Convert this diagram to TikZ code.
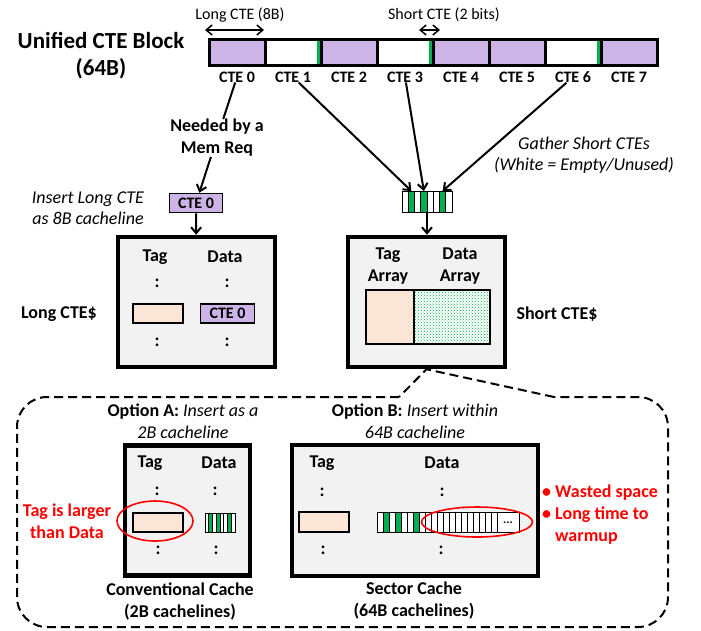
\documentclass[tikz,border=0pt]{standalone}
\usepackage{fontspec}
\setmainfont{Carlito}
\usetikzlibrary{positioning, arrows.meta, patterns, shapes.geometric}

\definecolor{ctepurple}{HTML}{CDB4E6}
\definecolor{tagpeach}{HTML}{FBE5D6}
\definecolor{bitgreen}{HTML}{00B050}
\definecolor{cachegray}{HTML}{F2F2F2}
\definecolor{warnred}{HTML}{FF0000}

\tikzset{
  >={Straight Barb[length=6pt,width=10pt]}, % open arrow heads
  lbl/.style={font=\fontsize{18}{22}\selectfont\bfseries, align=center, inner sep=0pt}, % bold labels
  note/.style={font=\fontsize{18}{21}\selectfont\itshape, align=center, inner sep=0pt}, % italic remarks
  ctelab/.style={font=\fontsize{16}{18}\selectfont\bfseries, inner sep=0pt}, % names of the entries
  toplab/.style={font=\fontsize{16}{18}\selectfont, inner sep=0pt},
  warn/.style={lbl, text=warnred}, % red remarks
  cell/.style={draw, line width=3pt, outer sep=0pt, minimum width=56pt, minimum height=26pt, inner sep=0pt},
  bit/.style={draw, line width=0.8pt, outer sep=0pt, minimum height=20pt, inner sep=0pt},
  entry/.style={draw, line width=1.5pt, minimum height=19pt, inner sep=0pt},
  cachebox/.style={draw, line width=4.5pt, fill=cachegray, inner sep=0pt},
  ring/.style={draw=warnred, line width=1.6pt, ellipse, inner sep=0pt},
  region/.style={dash pattern=on 9pt off 5pt, line width=2pt},
  link/.style={line width=2pt},
}

\begin{document}
\begin{tikzpicture}[x=1pt, y=-1pt]
  \useasboundingbox (0,0) rectangle (701,630);

  % the unified block
  \node[lbl, font=\fontsize{23}{27}\selectfont\bfseries] (title) at (101,56) {Unified CTE Block\\(64B)};
  \foreach \i/\c in {0/ctepurple,1/white,2/ctepurple,3/white,4/ctepurple,5/ctepurple,6/white,7/ctepurple}
    \node[cell, fill=\c] (c\i) at (237+56*\i,52) {};
  \foreach \i in {1,3,6}
    \fill[bitgreen] ([xshift=-4.5pt,yshift=-1.5pt]c\i.north east) rectangle ([xshift=-1.5pt,yshift=1.5pt]c\i.south east);
  \foreach \i in {0,...,7}
    \node[ctelab] (l\i) at ([yshift=-12pt]c\i.south) {CTE \i};

  \coordinate (lw) at ([xshift=-4pt,yshift=9pt]c0.north west);
  \coordinate (le) at ([xshift=-1pt,yshift=9pt]c0.north east);
  \coordinate (sw) at ([xshift=-14pt,yshift=9pt]c3.north east);
  \coordinate (se) at ([xshift=7pt,yshift=9pt]c3.north east);
  \draw[<->, line width=1.5pt] (lw) -- (le);
  \draw[<->, line width=1.5pt] (sw) -- (se);
  \node[toplab] (longlab) at (240,15) {Long CTE (8B)};
  \node[toplab] (shortlab) at (444,15) {Short CTE (2 bits)};

  % long CTE path
  \node[lbl] (need) at (217,138) {Needed by a\\Mem Req};
  \draw[link] (l0) -- (need);
  \node[entry, ctelab, fill=ctepurple, minimum width=53pt] (ins) at (196,203) {CTE 0};
  \draw[->, link] (need) -- (ins);
  \node[note] (insnote) at (88,208) {Insert Long CTE\\as 8B cacheline};

  \node[cachebox, minimum width=157pt, minimum height=130pt] (lcache) at (196.5,302) {};
  \draw[->, link] (ins) -- (lcache);
  \node[lbl] (ltag) at (155,257) {Tag};
  \node[lbl] (ldata) at (225,257) {Data};
  \node[lbl] (ldot1) at (157,283) {:};
  \node[lbl] (ldot2) at (227,283) {:};
  \node[entry, fill=tagpeach, minimum width=50pt] (lentry) at (158,313.5) {};
  \node[entry, ctelab, fill=ctepurple, minimum width=54pt] (lcte) at (227.5,313.5) {CTE 0};
  \node[lbl] (ldot3) at (157,342) {:};
  \node[lbl] (ldot4) at (227,342) {:};
  \node[lbl] (lname) at (59,314) {Long CTE\$};

  % short CTE path
  \foreach \i/\c in {0/white,1/bitgreen,2/white,3/bitgreen,4/white,5/white,6/bitgreen,7/white}
    \node[bit, fill=\c, minimum width=6.25pt, minimum height=21pt] (s\i) at (405.1+6.25*\i,201.5) {};
  \draw[->, link] (l1) -- (s1.north);
  \draw[->, link] (l3) -- (s3.north);
  \draw[->, link] (l6) -- (s6.north);
  \node[note] (gather) at (584,155) {Gather Short CTEs\\(White = Empty/Unused)};

  \node[cachebox, minimum width=157pt, minimum height=130pt] (scache) at (426.5,302) {};
  \draw[->, link] (s3.south east) -- (s3.south east |- scache.north);
  \node[lbl] (stag) at (388,266) {Tag\\Array};
  \node[lbl] (sdata) at (460,266) {Data\\Array};
  \node[entry, fill=tagpeach, minimum width=48pt, minimum height=54pt] (starr) at (390,317) {};
  \node[entry, preaction={fill=white}, pattern=crosshatch dots, pattern color=bitgreen, minimum width=76pt, minimum height=54pt] (sdarr) at (452,317) {};
  \node[lbl] (sname) at (557,314) {Short CTE\$};

  % options for inserting short CTEs
  \draw[region, rounded corners=30pt] (399,397) -- (17,397) -- (17,627) -- (668,627) -- (668,397) -- (554,397);
  \draw[region] (554,397) -- (scache.south) -- (399,397);
  \node[lbl] (opta) at (183,421) {Option A: {\normalfont\itshape Insert as a}\\{\normalfont\itshape 2B cacheline}};
  \node[lbl] (optb) at (415,421) {Option B: {\normalfont\itshape Insert within}\\{\normalfont\itshape 64B cacheline}};

  % option A
  \node[cachebox, minimum width=125pt, minimum height=130pt] (conv) at (187.5,510.5) {};
  \node[lbl] (atag) at (150,463) {Tag};
  \node[lbl] (adata) at (219,463) {Data};
  \node[lbl] (adot1) at (157,491) {:};
  \node[lbl] (adot2) at (215,491) {:};
  \node[entry, fill=tagpeach, minimum width=50pt] (aentry) at (158,522.5) {};
  \foreach \i/\c in {0/white,1/bitgreen,2/white,3/bitgreen,4/white,5/white,6/bitgreen,7/white}
    \node[bit, fill=\c, minimum width=3.75pt, minimum height=19pt] (a\i) at (206.9+3.75*\i,522.5) {};
  \node[lbl] (adot3) at (158,550) {:};
  \node[lbl] (adot4) at (216,550) {:};
  \node[ring, minimum width=76pt, minimum height=40pt] (aring) at (155,521) {};
  \node[warn] (alarge) at (67,521) {Tag is larger\\than Data};
  \node[lbl] (aname) at (180,602) {Conventional Cache\\(2B cachelines)};

  % option B
  \node[cachebox, minimum width=246pt, minimum height=131pt] (sect) at (415,510.5) {};
  \node[lbl] (btag) at (322,463) {Tag};
  \node[lbl] (bdata) at (442,463) {Data};
  \node[lbl] (bdot1) at (322,492) {:};
  \node[lbl] (bdot2) at (442,492) {:};
  \node[entry, fill=tagpeach, minimum width=50pt, minimum height=20pt] (bentry) at (324,522) {};
  \foreach \i/\c in {0/white,1/bitgreen,2/white,3/bitgreen,4/white,5/white,6/bitgreen,7/white}
    \node[bit, fill=\c, minimum width=6pt] (b\i) at (380+6*\i,522) {};
  \foreach \i in {8,...,19}
    \node[bit, fill=white, minimum width=6pt] (b\i) at (380+6*\i,522) {};
  \node[bit, fill=white, minimum width=22pt, font=\fontsize{12}{12}\selectfont\bfseries] (bmore) at (508,522) {\raisebox{-4pt}{...}};
  \node[lbl] (bdot3) at (323,550) {:};
  \node[lbl] (bdot4) at (441,550) {:};
  \node[ring, minimum width=111pt, minimum height=30pt] (bring) at (477,522) {};
  \node[warn, align=left, anchor=west] (bwaste) at (542,515) {\textbullet{} Wasted space\\\textbullet{} Long time to\\\phantom{\textbullet{} }warmup};
  \node[lbl] (bname) at (414,601) {Sector Cache\\(64B cachelines)};
\end{tikzpicture}
\end{document}
